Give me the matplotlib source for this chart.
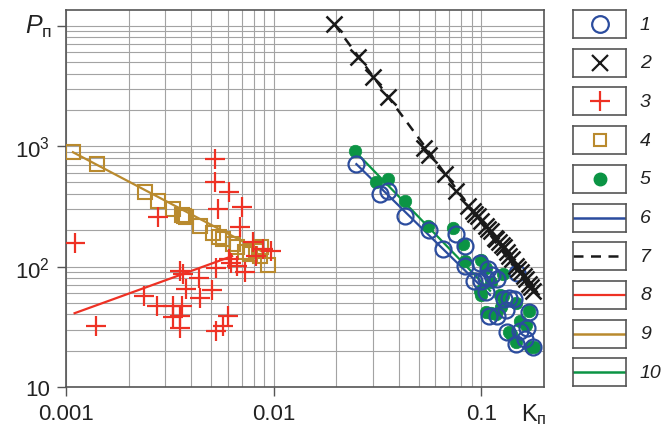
import matplotlib
matplotlib.use("Agg")
import matplotlib.pyplot as plt
from matplotlib.ticker import LogLocator, NullFormatter, FixedLocator, FixedFormatter

plt.rcParams['font.family'] = ['Liberation Sans', 'DejaVu Sans']
plt.rcParams['mathtext.fontset'] = 'custom'
plt.rcParams['mathtext.rm'] = 'Liberation Sans'
plt.rcParams['mathtext.it'] = 'Liberation Sans:italic'

# ---- data ----
# 1: blue circles
x1 = [0.0250, 0.0323, 0.0355, 0.0430, 0.0562, 0.0652, 0.0750, 0.0829, 0.0829, 0.0982,
      0.107, 0.0997, 0.0925, 0.105, 0.119, 0.149, 0.109, 0.119, 0.131, 0.128,
      0.144, 0.170, 0.133, 0.153, 0.166, 0.147, 0.177, 0.162, 0.1364, 0.113, 0.105]
y1 = [709, 400, 426, 264, 202, 140, 185, 148, 102, 108,
      95, 76, 76, 62, 79, 88, 39, 39, 44, 54,
      54, 42, 28.4, 29.4, 31, 22.7, 21.3, 25, 55, 85, 80]
# 2: black crosses
x2 = [0.0196, 0.0254, 0.0300, 0.0355, 0.0527, 0.0562, 0.0664, 0.0756, 0.0863, 0.0911,
      0.093, 0.0960, 0.0997, 0.1052, 0.108, 0.1110, 0.1156, 0.118, 0.1220, 0.125,
      0.1290, 0.132, 0.1360, 0.1410, 0.1470, 0.150, 0.1550, 0.160, 0.1640, 0.1700,
      0.174, 0.1770]
y2 = [10280, 5445, 3715, 2535, 960, 850, 586, 426, 320, 290,
      275, 264, 240, 218, 205, 198, 174, 168, 159, 150,
      144, 133, 123, 115, 102, 96, 89.5, 84, 79, 72,
      68, 63]
# 3: red pluses
x3 = [0.00110, 0.00140, 0.00238, 0.00273, 0.00278, 0.00328, 0.00328, 0.00353, 0.00364, 0.00360,
      0.00353, 0.00353, 0.00380, 0.00438, 0.00441, 0.00507, 0.00530, 0.00521, 0.00521, 0.00540,
      0.00610, 0.00707, 0.00530, 0.00567, 0.00603, 0.00626, 0.00662, 0.00726, 0.00690, 0.00796,
      0.00889, 0.00975, 0.00826, 0.00610]
y3 = [157, 32, 57, 47, 256, 47, 38, 92, 87, 47,
      39, 31, 65, 81, 55, 64, 98, 780, 506, 300,
      418, 310, 29, 32, 39, 108, 102, 90, 213, 159,
      140, 135, 123, 115]
# 4: gold squares
x4 = [0.00108, 0.00141, 0.00240, 0.00276, 0.00326, 0.00360, 0.00369, 0.00378, 0.00441, 0.00511,
      0.00546, 0.00571, 0.00637, 0.00662, 0.00726, 0.00767, 0.00826, 0.00873, 0.00857, 0.00939]
y4 = [897, 709, 413, 352, 300, 267, 261, 256, 218, 190,
      177, 169, 154, 144, 131, 127, 135, 144, 123, 103]
# 5: green dots
x5 = [0.0245, 0.0312, 0.0355, 0.0427, 0.0552, 0.0728, 0.0815, 0.0829, 0.0997, 0.1052,
      0.1265, 0.1265, 0.1469, 0.170, 0.1177, 0.1364, 0.164, 0.1722, 0.1052, 0.0982,
      0.1114, 0.153, 0.0997, 0.111, 0.1222, 0.124, 0.139, 0.179, 0.147]
y5 = [914, 500, 532, 352, 218, 208, 155, 112, 114, 98,
      86, 57, 50, 43, 40, 28.4, 33, 21.3, 42, 63,
      74, 35.5, 58.5, 41.5, 58.5, 46, 27.5, 21.3, 23.6]
# fitted lines 6-10 (end points)
fit6_x = [0.0250, 0.110]
fit6_y = [709, 58]
fit7_x = [0.0196, 0.178]
fit7_y = [10280, 60]
fit8_x = [0.0011, 0.0063]
fit8_y = [41, 122]
fit9_x = [0.00108, 0.0088]
fit9_y = [890, 133]
fit10_x = [0.0245, 0.110]
fit10_y = [914, 63]

xticks = [0.001, 0.01, 0.1]
xticklabels = ['0.001', '0.01', '0.1']
yticks = [10, 100, 1000, 10000]
yticklabels = ['10', r'$\mathregular{10^2}$', r'$\mathregular{10^3}$', '']
ylabel_text = r'$\mathit{P}_{\mathregular{п}}$'
xlabel_text = r'$\mathregular{K}_{\mathregular{п}}$'
legend_labels = ['1', '2', '3', '4', '5', '6', '7', '8', '9', '10']

# ---- styles ----
c_blue = '#2B4C9E'
c_black = '#1A1A1A'
c_red = '#EE3124'
c_gold = '#B98A2E'
c_green = '#0B9444'
c_text = '#222222'

W, H = 662, 427
fig = plt.figure(figsize=(W / 100, H / 100), dpi=100)
ax = fig.add_axes([66 / W, 1 - 388 / H, (544 - 66) / W, (388 - 11) / H])
ax.set_xscale('log')
ax.set_yscale('log')
ax.set_xlim(0.001, 0.2)
ax.set_ylim(10, 13500)

ax.grid(True, which='both', color='#A3A3A3', linewidth=0.8)
ax.set_axisbelow(True)
ax.xaxis.set_minor_locator(LogLocator(base=10, subs=range(2, 10)))
ax.yaxis.set_minor_locator(LogLocator(base=10, subs=range(2, 10)))
ax.xaxis.set_minor_formatter(NullFormatter())
ax.yaxis.set_minor_formatter(NullFormatter())
ax.tick_params(which='minor', length=0)

ax.xaxis.set_major_locator(FixedLocator(xticks))
ax.xaxis.set_major_formatter(FixedFormatter(xticklabels))
ax.yaxis.set_major_locator(FixedLocator(yticks))
ax.yaxis.set_major_formatter(FixedFormatter(yticklabels))
ax.tick_params(which='major', direction='out', length=6.5, width=1.0, color='#555555',
               labelsize=16, labelcolor=c_text, pad=5)
for s in ax.spines.values():
    s.set_color('#555555')
    s.set_linewidth(1.2)

ax.annotate(ylabel_text, xy=(0, 10000), xycoords=('axes fraction', 'data'), xytext=(-10, 0),
            textcoords='offset points', ha='right', va='center', fontsize=18, color=c_text)
ax.annotate(xlabel_text, xy=(0.978, 0), xycoords='axes fraction', xytext=(0, -10),
            textcoords='offset points', ha='center', va='top', fontsize=17, color=c_text)

# lines
ax.plot(fit9_x, fit9_y, color=c_gold, lw=1.6, zorder=3)
ax.plot(fit8_x, fit8_y, color=c_red, lw=1.6, zorder=3)
ax.plot(fit7_x, fit7_y, color=c_black, lw=1.8, ls=(0, (4, 3)), zorder=3)
ax.plot(fit6_x, fit6_y, color=c_blue, lw=1.6, zorder=3)
ax.plot(fit10_x, fit10_y, color=c_green, lw=1.6, zorder=3)

# markers
ax.plot(x4, y4, ls='none', marker='s', ms=10, mfc='none', mec=c_gold, mew=1.5, zorder=4)
ax.plot(x3, y3, ls='none', marker='+', ms=14, mec=c_red, mew=1.6, zorder=5)
ax.plot(x5, y5, ls='none', marker='o', ms=9, mfc=c_green, mec=c_green, mew=0.5, zorder=4)
ax.plot(x1, y1, ls='none', marker='o', ms=11.5, mfc='none', mec=c_blue, mew=1.6, zorder=5)
ax.plot(x2, y2, ls='none', marker='x', ms=11, mec=c_black, mew=1.8, zorder=5)

# ---- legend drawn as framed boxes ----
styles = [
    dict(marker='o', ms=12, mfc='none', mec=c_blue, mew=1.6, ls='none'),
    dict(marker='x', ms=11, mec=c_black, mew=1.6, ls='none'),
    dict(marker='+', ms=14, mec=c_red, mew=1.6, ls='none'),
    dict(marker='s', ms=9, mfc='none', mec=c_gold, mew=1.5, ls='none'),
    dict(marker='o', ms=9, mfc=c_green, mec=c_green, ls='none'),
    dict(color=c_blue, lw=1.8),
    dict(color=c_black, lw=1.8, ls=(0, (4, 3))),
    dict(color=c_red, lw=1.6),
    dict(color=c_gold, lw=1.8),
    dict(color=c_green, lw=1.8),
]
for i, (lab, st) in enumerate(zip(legend_labels, styles)):
    top = 11 + 38.7 * i
    lax = fig.add_axes([573 / W, 1 - (top + 28) / H, 53 / W, 28 / H])
    lax.set_xlim(0, 1)
    lax.set_ylim(0, 1)
    lax.set_xticks([])
    lax.set_yticks([])
    for s in lax.spines.values():
        s.set_color('#555555')
        s.set_linewidth(1.2)
    if 'marker' in st:
        lax.plot([0.5], [0.5], clip_on=False, **st)
    else:
        lax.plot([0, 1], [0.5, 0.5], **st)
    fig.text(640 / W, 1 - (top + 14) / H, lab, ha='left', va='center',
             fontsize=14, style='italic', color=c_text)

fig.savefig('out.png', dpi=100, facecolor='white')
